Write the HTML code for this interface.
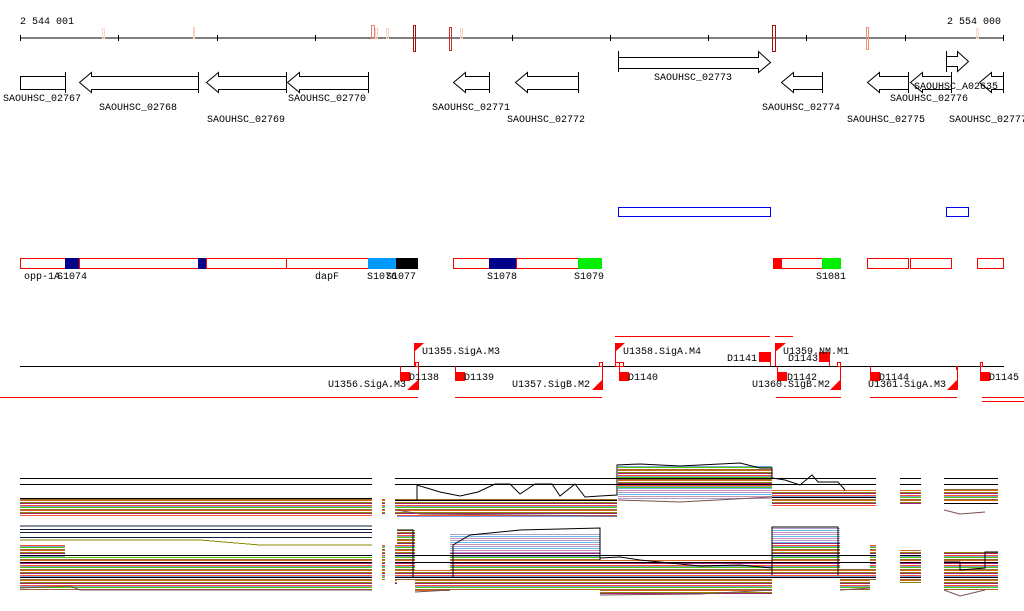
<!DOCTYPE html>
<html><head><meta charset="utf-8"><style>
html,body{margin:0;padding:0;background:#fff;}
svg{display:block;}
text{font-family:"Liberation Mono",monospace;font-size:10px;fill:#000;}
</style></head><body>
<svg width="1024" height="611" viewBox="0 0 1024 611" xmlns="http://www.w3.org/2000/svg" shape-rendering="crispEdges">
<defs>
<pattern id="p" width="8" height="10" patternUnits="userSpaceOnUse">
<rect width="8" height="10" fill="#fff"/>
<rect y="0" width="8" height="1" fill="#d2691e"/>
<rect y="2" width="8" height="1" fill="#8b8b00"/>
<rect y="3" width="8" height="1" fill="#a0207a"/>
<rect y="5" width="8" height="1" fill="#ff5030"/>
<rect y="6" width="8" height="1" fill="#7fa0e0"/>
<rect y="7" width="8" height="1" fill="#55cc00"/>
<rect y="9" width="8" height="1" fill="#996633"/>
</pattern>
<pattern id="q" width="8" height="6" patternUnits="userSpaceOnUse">
<rect width="8" height="6" fill="#fff"/>
<rect y="0" width="8" height="1" fill="#b0a0d0"/>
<rect y="2" width="8" height="1" fill="#66bbee"/>
<rect y="4" width="8" height="1" fill="#d090b0"/>
</pattern>
</defs>

<!-- ruler -->
<text x="20" y="24">2 544 001</text>
<text x="947" y="24">2 554 000</text>
<line x1="20" y1="38" x2="1004" y2="38" stroke="#000"/>
<g stroke="#000">
<line x1="20.5" y1="35" x2="20.5" y2="41"/><line x1="118.5" y1="35" x2="118.5" y2="41"/>
<line x1="217.5" y1="35" x2="217.5" y2="41"/><line x1="315.5" y1="35" x2="315.5" y2="41"/>
<line x1="512.5" y1="35" x2="512.5" y2="41"/><line x1="610.5" y1="35" x2="610.5" y2="41"/>
<line x1="708.5" y1="35" x2="708.5" y2="41"/><line x1="806.5" y1="35" x2="806.5" y2="41"/>
<line x1="905.5" y1="35" x2="905.5" y2="41"/><line x1="1003.5" y1="35" x2="1003.5" y2="41"/>
</g>
<g fill="none">
<rect x="102.5" y="28.5" width="2" height="10" stroke="#f8d8c8"/>
<rect x="193.5" y="27.5" width="1" height="11" stroke="#f8d0c0"/>
<rect x="371.5" y="25.5" width="3" height="13" stroke="#f08070"/>
<rect x="375.5" y="28.5" width="2" height="10" stroke="#f8d0c0"/>
<rect x="386.5" y="28.5" width="2" height="10" stroke="#f8d0c0"/>
<rect x="413.5" y="25.5" width="2" height="26" stroke="#a01010"/>
<rect x="449.5" y="27.5" width="2" height="23" stroke="#c03030"/>
<rect x="460.5" y="28.5" width="2" height="10" stroke="#f8d0c0"/>
<rect x="772.5" y="25.5" width="3" height="26" stroke="#a01010"/>
<rect x="866.5" y="27.5" width="2" height="22" stroke="#f09070"/>
<rect x="976.5" y="28.5" width="2" height="10" stroke="#f8d8c8"/>
</g>

<!-- genes -->
<g fill="#fff" stroke="#000" shape-rendering="auto">
<rect x="20.5" y="76.5" width="45" height="13"/>
<line x1="65.5" y1="72" x2="65.5" y2="93"/>
<path d="M198.5 76.5H91.5V72.5L79.5 82.5L91.5 92.5V89.5H198.5"/><line x1="198.5" y1="72" x2="198.5" y2="93"/>
<path d="M286.5 76.5H218.5V72.5L206.5 82.5L218.5 92.5V89.5H286.5"/><line x1="286.5" y1="72" x2="286.5" y2="93"/>
<path d="M368.5 76.5H299.5V72.5L287.5 82.5L299.5 92.5V89.5H368.5"/><line x1="368.5" y1="72" x2="368.5" y2="93"/>
<path d="M489.5 76.5H465.5V72.5L453.5 82.5L465.5 92.5V89.5H489.5"/><line x1="489.5" y1="72" x2="489.5" y2="93"/>
<path d="M578.5 76.5H527.5V72.5L515.5 82.5L527.5 92.5V89.5H578.5"/><line x1="578.5" y1="72" x2="578.5" y2="93"/>
<path d="M618.5 57.5H758.5V51.5L770.5 62.5L758.5 72.5V68.5H618.5"/><line x1="618.5" y1="51" x2="618.5" y2="72"/>
<path d="M822.5 76.5H793.5V72.5L781.5 82.5L793.5 92.5V89.5H822.5"/><line x1="822.5" y1="72" x2="822.5" y2="93"/>
<path d="M908.5 76.5H879.5V72.5L867.5 82.5L879.5 92.5V89.5H908.5"/><line x1="908.5" y1="72" x2="908.5" y2="93"/>
<path d="M951.5 76.5H922.5V72.5L910.5 82.5L922.5 92.5V89.5H951.5"/><line x1="951.5" y1="72" x2="951.5" y2="93"/>
<path d="M946.5 56.5H957.5V51.5L968.5 61.5L957.5 71.5V66.5H946.5"/><line x1="946.5" y1="51" x2="946.5" y2="72"/>
<path d="M1003.5 76.5H991.5V72.5L979.5 82.5L991.5 92.5V89.5H1003.5"/><line x1="1003.5" y1="72" x2="1003.5" y2="93"/>
</g>
<text x="3" y="101">SAOUHSC_02767</text>
<text x="99" y="110">SAOUHSC_02768</text>
<text x="207" y="122">SAOUHSC_02769</text>
<text x="288" y="101">SAOUHSC_02770</text>
<text x="432" y="110">SAOUHSC_02771</text>
<text x="507" y="122">SAOUHSC_02772</text>
<text x="654" y="80">SAOUHSC_02773</text>
<text x="762" y="110">SAOUHSC_02774</text>
<text x="847" y="122">SAOUHSC_02775</text>
<text x="890" y="101">SAOUHSC_02776</text>
<text x="914" y="89">SAOUHSC_A02635</text>
<text x="949" y="122">SAOUHSC_02777</text>

<!-- blue boxes -->
<rect x="618.5" y="207.5" width="152" height="9" fill="none" stroke="#0000ee"/>
<rect x="946.5" y="207.5" width="22" height="9" fill="none" stroke="#0000ee"/>

<!-- operon row -->
<g fill="#fff" stroke="#f00">
<rect x="20.5" y="258.5" width="45" height="10"/>
<rect x="79.5" y="258.5" width="119" height="10"/>
<rect x="206.5" y="258.5" width="80" height="10"/>
<rect x="286.5" y="258.5" width="82" height="10"/>
<rect x="453.5" y="258.5" width="36" height="10"/>
<rect x="516.5" y="258.5" width="62" height="10"/>
<rect x="781.5" y="258.5" width="41" height="10"/>
<rect x="867.5" y="258.5" width="41" height="10"/>
<rect x="910.5" y="258.5" width="41" height="10"/>
<rect x="977.5" y="258.5" width="26" height="10"/>
</g>
<rect x="65" y="258" width="14" height="11" fill="#000088"/>
<rect x="198" y="258" width="8" height="11" fill="#000088"/>
<rect x="368" y="258" width="28" height="11" fill="#0099ff"/>
<rect x="396" y="258" width="22" height="11" fill="#000"/>
<rect x="489" y="258" width="27" height="11" fill="#000088"/>
<rect x="578" y="258" width="24" height="11" fill="#00ee00"/>
<rect x="773" y="258" width="9" height="11" fill="#f00"/>
<rect x="822" y="258" width="19" height="11" fill="#00ee00"/>
<text x="24" y="279">opp-1A</text><text x="57" y="279">S1074</text>
<text x="315" y="279">dapF</text><text x="367" y="279">S1076</text><text x="386" y="279">S1077</text>
<text x="487" y="279">S1078</text><text x="574" y="279">S1079</text><text x="816" y="279">S1081</text>

<!-- regulation row -->
<line x1="20" y1="366.5" x2="1004" y2="366.5" stroke="#000"/>
<g stroke="#f00" fill="none">
<line x1="0" y1="397.5" x2="418" y2="397.5"/><line x1="455" y1="397.5" x2="602" y2="397.5"/>
<line x1="776" y1="397.5" x2="841" y2="397.5"/><line x1="870" y1="397.5" x2="957" y2="397.5"/>
<line x1="982" y1="397.5" x2="1024" y2="397.5"/><line x1="982" y1="401.5" x2="1024" y2="401.5"/>
<line x1="615" y1="336.5" x2="770" y2="336.5"/><line x1="775" y1="336.5" x2="793" y2="336.5"/>
<path d="M414.5 343V366M400.5 366V372M418.5 366V390M455.5 366V372M602.5 366V390M615.5 343V366M619.5 366V372M770.5 352V366M775.5 343V366M777.5 366V372M829.5 352V366M840.5 366V390M870.5 366V372M957.5 366V390M980.5 366V372"/>
<rect x="415.5" y="362.5" width="3" height="4"/><rect x="599.5" y="362.5" width="3" height="4"/>
<rect x="615.5" y="362.5" width="4" height="4"/><rect x="619.5" y="362.5" width="4" height="4"/>
<rect x="837.5" y="362.5" width="3" height="4"/><rect x="980.5" y="362.5" width="2" height="4"/>
</g>
<g fill="#f00" shape-rendering="auto">
<polygon points="414,343 424,343 414,352"/><polygon points="615,343 625,343 615,352"/><polygon points="775,343 786,343 775,352"/>
<polygon points="418,380 418,390 407,390"/><polygon points="602,380 602,390 592,390"/>
<polygon points="840,380 840,390 830,390"/><polygon points="957,380 957,390 947,390"/>
<rect x="400" y="372" width="10" height="9"/><rect x="455" y="372" width="10" height="9"/>
<rect x="619" y="372" width="10" height="9"/><rect x="759" y="352" width="11" height="10"/>
<rect x="819" y="352" width="10" height="10"/><rect x="777" y="372" width="10" height="9"/>
<rect x="870" y="372" width="10" height="9"/><rect x="980" y="372" width="10" height="9"/>
<rect x="956" y="366" width="2" height="4"/>
</g>
<text x="422" y="354">U1355.SigA.M3</text>
<text x="328" y="387">U1356.SigA.M3</text>
<text x="409" y="380">D1138</text>
<text x="464" y="380">D1139</text>
<text x="512" y="387">U1357.SigB.M2</text>
<text x="623" y="354">U1358.SigA.M4</text>
<text x="628" y="380">D1140</text>
<text x="727" y="361">D1141</text>
<text x="783" y="354">U1359.NM.M1</text>
<text x="788" y="361">D1143</text>
<text x="787" y="380">D1142</text>
<text x="752" y="387">U1360.SigB.M2</text>
<text x="879" y="380">D1144</text>
<text x="868" y="387">U1361.SigA.M3</text>
<text x="989" y="380">D1145</text>

<!-- upper chart -->
<g fill="url(#p)">
<rect x="20" y="498" width="352" height="18"/>
<rect x="382" y="498" width="3" height="16"/><rect x="395" y="498" width="2" height="16"/>
<rect x="397" y="499" width="220" height="18"/>
<rect x="618" y="466" width="154" height="22"/>
<rect x="772" y="490" width="104" height="16"/>
<rect x="900" y="490" width="21" height="14"/>
<rect x="944" y="488" width="54" height="14"/>
</g>
<rect x="618" y="488" width="154" height="12" fill="url(#q)"/>
<g stroke="#000" fill="none">
<path d="M20 478.5H372M20 484.5H372M395 478.5H876M395 484.5H876M900 478.5H921M900 484.5H921M944 478.5H998M944 484.5H998"/>
<path d="M20 498.5H372M395 500.5H617M772 497.5H876M944 503.5H998"/>
<path d="M417 500V485L440 492L460 496L478 492L495 484L510 484L520 494L535 484L552 484L560 496L575 484L585 497L600 496L617 495V465L640 464L680 466L740 463L760 468H772V478L785 480L800 485L812 475L818 482L838 482L845 490" shape-rendering="auto"/>
</g>
<path d="M397 510L420 514L617 516M618 500L680 502L772 497M944 510L960 514L985 512" stroke="#7a5050" fill="none" shape-rendering="auto"/>

<!-- lower chart -->
<g fill="url(#p)">
<rect x="20" y="545" width="45" height="45"/>
<rect x="65" y="557" width="307" height="33"/>
<rect x="382" y="545" width="3" height="35"/><rect x="395" y="545" width="2" height="40"/>
<rect x="397" y="530" width="18" height="50"/>
<rect x="415" y="570" width="35" height="22"/>
<rect x="450" y="553" width="150" height="37"/>
<rect x="600" y="560" width="172" height="35"/>
<rect x="772" y="543" width="68" height="34"/>
<rect x="840" y="568" width="30" height="22"/>
<rect x="870" y="545" width="6" height="35"/>
<rect x="900" y="550" width="21" height="33"/>
<rect x="944" y="552" width="54" height="38"/>
</g>
<rect x="450" y="533" width="150" height="20" fill="url(#q)"/>
<rect x="772" y="527" width="68" height="16" fill="url(#q)"/>
<g fill="none">
<path d="M20 529.5H372M20 532.5H372M20 537.5H372" stroke="#102040"/>
<path d="M20 540H200L260 545H372" stroke="#8b8b00"/>
<path d="M20 526H372" stroke="#102040"/>
</g>
<g stroke="#000" fill="none">
<path d="M20 555.5H372M20 562.5H372M20 577.5H372M395 555.5H876M395 562.5H876M395 577.5H876M900 555.5H921M900 562.5H921M900 577.5H921M944 562.5H998M944 577.5H998"/>
<path d="M397 530H413V578M453 578V545L470 535L520 530L600 528V560M772 575V527H838V575" shape-rendering="auto"/>
<path d="M600 558L620 557L640 560L700 566L740 565L772 568M944 562L960 562V570L985 568V552H998" shape-rendering="auto"/>
</g>
<path d="M20 588L70 586L80 590L372 590M415 592L450 590M600 595L700 594L772 590M840 590L870 588M944 590L960 596L985 590" stroke="#7a5050" fill="none" shape-rendering="auto"/>
</svg>
</body></html>
